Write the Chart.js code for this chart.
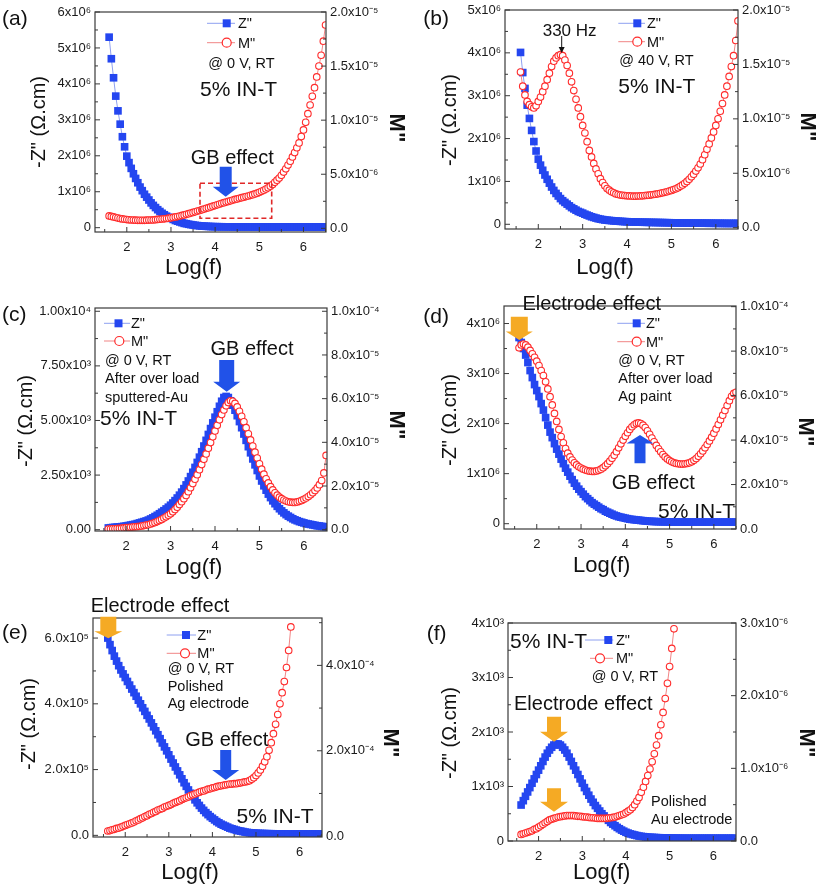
<!DOCTYPE html>
<html>
<head>
<meta charset="utf-8">
<script src="https://cdn.jsdelivr.net/npm/chart.js@4.4.1/dist/chart.umd.min.js"></script>
<style>
  body { margin: 0; background: #fff; }
  #fig { position: relative; width: 817px; height: 892px; overflow: hidden; font-family: "Liberation Sans", Arial, sans-serif; color: #111; }
  #fig canvas { position: absolute; }
  .t { position: absolute; white-space: nowrap; line-height: 1; z-index: 5; }
</style>
</head>
<body>
<div id="fig"></div>
<script>
// log(f) grid shared by every panel
const logF = [
  1.60,1.65,1.70,1.75,1.80,1.85,1.90,1.95,2.00,2.05,
  2.10,2.15,2.20,2.25,2.30,2.35,2.40,2.45,2.50,2.55,
  2.60,2.65,2.70,2.75,2.80,2.85,2.90,2.95,3.00,3.05,
  3.10,3.15,3.20,3.25,3.30,3.35,3.40,3.45,3.50,3.55,
  3.60,3.65,3.70,3.75,3.80,3.85,3.90,3.95,4.00,4.05,
  4.10,4.15,4.20,4.25,4.30,4.35,4.40,4.45,4.50,4.55,
  4.60,4.65,4.70,4.75,4.80,4.85,4.90,4.95,5.00,5.05,
  5.10,5.15,5.20,5.25,5.30,5.35,5.40,5.45,5.50,5.55,
  5.60,5.65,5.70,5.75,5.80,5.85,5.90,5.95,6.00,6.05,
  6.10,6.15,6.20,6.25,6.30,6.35,6.40,6.45,6.50
];

// (a) Z'' in 1e6 ohm.cm, M'' in 1e-6
const zA = [
  5.30,4.70,4.17,3.66,3.25,2.88,2.53,2.25,1.99,1.81,
  1.65,1.50,1.37,1.25,1.13,1.03,0.93,0.85,0.77,0.69,
  0.62,0.56,0.50,0.45,0.40,0.36,0.32,0.29,0.26,0.23,
  0.20,0.18,0.16,0.14,0.12,0.11,0.095,0.085,0.075,0.066,
  0.058,0.052,0.046,0.042,0.038,0.035,0.032,0.030,0.028,0.027,
  0.026,0.026,0.025,0.025,0.024,0.024,0.023,0.023,0.023,0.022,
  0.022,0.022,0.022,0.022,0.021,0.021,0.021,0.021,0.021,0.021,
  0.020,0.020,0.020,0.020,0.020,0.020,0.020,0.020,0.020,0.020,
  0.020,0.020,0.020,0.020,0.020,0.020,0.020,0.020,0.020,0.020,
  0.020,0.020,0.020,0.020,0.020,0.020,0.020,0.020,0.020
];
const mA = [
  1.15,1.10,1.05,1.00,0.95,0.90,0.87,0.84,0.81,0.79,
  0.77,0.76,0.75,0.74,0.74,0.74,0.74,0.75,0.76,0.77,
  0.78,0.80,0.82,0.84,0.86,0.88,0.91,0.94,0.97,1.01,
  1.05,1.09,1.14,1.19,1.24,1.29,1.35,1.41,1.47,1.53,
  1.59,1.65,1.72,1.78,1.85,1.91,1.98,2.05,2.11,2.18,
  2.24,2.31,2.37,2.43,2.49,2.55,2.61,2.67,2.72,2.78,
  2.83,2.88,2.94,2.99,3.05,3.11,3.18,3.25,3.33,3.42,
  3.52,3.63,3.75,3.90,4.05,4.25,4.45,4.65,4.90,5.20,
  5.50,5.85,6.20,6.60,7.00,7.45,7.90,8.50,9.10,9.80,
  10.6,11.4,12.2,13.0,14.0,15.0,16.0,17.3,18.8
];

// (b) Z'' in 1e6, M'' in 1e-6
const zB = [
  4.01,3.54,3.17,2.78,2.47,2.19,1.93,1.71,1.52,1.38,
  1.26,1.15,1.05,0.96,0.87,0.79,0.72,0.66,0.60,0.55,
  0.51,0.47,0.43,0.39,0.36,0.33,0.30,0.28,0.26,0.235,
  0.215,0.195,0.175,0.16,0.145,0.13,0.12,0.11,0.10,0.095,
  0.09,0.085,0.08,0.076,0.072,0.068,0.065,0.062,0.06,0.058,
  0.056,0.054,0.052,0.05,0.049,0.048,0.047,0.046,0.045,0.044,
  0.043,0.042,0.041,0.04,0.039,0.038,0.037,0.036,0.035,0.034,
  0.033,0.032,0.031,0.03,0.03,0.029,0.029,0.028,0.028,0.027,
  0.027,0.026,0.026,0.025,0.025,0.024,0.024,0.023,0.023,0.022,
  0.022,0.021,0.021,0.02,0.02,0.02,0.02,0.02,0.02
];
const mB = [
  14.3,13.0,12.2,11.6,11.3,11.1,11.0,11.2,11.6,12.0,
  12.5,13.0,13.6,14.2,14.8,15.3,15.6,15.8,15.9,15.8,
  15.4,14.9,14.2,13.4,12.6,11.8,11.0,10.2,9.4,8.7,
  7.9,7.1,6.5,5.9,5.4,4.95,4.5,4.15,3.85,3.6,
  3.45,3.3,3.2,3.1,3.05,3.0,2.97,2.95,2.93,2.92,
  2.91,2.9,2.9,2.91,2.92,2.93,2.95,2.97,2.99,3.02,
  3.05,3.08,3.12,3.16,3.2,3.25,3.3,3.36,3.42,3.5,
  3.58,3.68,3.8,3.93,4.08,4.25,4.45,4.67,4.92,5.2,
  5.5,5.85,6.25,6.7,7.2,7.7,8.25,8.8,9.4,10.0,
  10.7,11.4,12.2,13.0,13.9,14.8,15.8,17.2,19.0
];

// (c) Z'' in 1e3, M'' in 1e-5
const zC = [
  0.08,0.09,0.10,0.11,0.12,0.13,0.14,0.155,0.17,0.19,
  0.21,0.23,0.25,0.28,0.31,0.34,0.37,0.40,0.44,0.49,
  0.54,0.60,0.66,0.73,0.80,0.87,0.95,1.03,1.12,1.22,
  1.33,1.45,1.58,1.72,1.88,2.05,2.23,2.43,2.63,2.85,
  3.08,3.32,3.57,3.83,4.09,4.36,4.63,4.89,5.15,5.40,
  5.65,5.88,6.05,6.10,6.05,5.90,5.70,5.47,5.22,4.95,
  4.67,4.38,4.09,3.80,3.52,3.24,2.97,2.71,2.46,2.23,
  2.01,1.81,1.63,1.47,1.32,1.19,1.07,0.96,0.86,0.77,
  0.69,0.62,0.56,0.50,0.45,0.41,0.37,0.34,0.31,0.28,
  0.26,0.24,0.22,0.20,0.18,0.17,0.15,0.14,0.13
];
const mC = [
  0.03,0.03,0.04,0.04,0.05,0.06,0.07,0.08,0.09,0.10,
  0.11,0.12,0.13,0.14,0.15,0.17,0.19,0.21,0.23,0.26,
  0.29,0.33,0.37,0.42,0.47,0.53,0.59,0.66,0.73,0.82,
  0.92,1.03,1.15,1.28,1.42,1.57,1.74,1.92,2.11,2.31,
  2.52,2.75,2.98,3.22,3.47,3.73,3.99,4.25,4.52,4.78,
  5.03,5.27,5.48,5.67,5.82,5.90,5.88,5.78,5.62,5.42,
  5.19,4.94,4.67,4.39,4.11,3.83,3.55,3.28,3.02,2.77,
  2.54,2.33,2.14,1.97,1.82,1.69,1.58,1.49,1.42,1.36,
  1.31,1.28,1.26,1.25,1.25,1.27,1.30,1.34,1.39,1.45,
  1.52,1.60,1.69,1.79,1.91,2.06,2.25,2.60,3.40
];

// (d) Z'' in 1e6, M'' in 1e-5
const zD = [
  3.72,3.62,3.50,3.37,3.22,3.06,2.92,2.78,2.66,2.54,
  2.40,2.27,2.12,1.97,1.83,1.72,1.60,1.49,1.39,1.29,
  1.20,1.11,1.03,0.95,0.88,0.81,0.75,0.69,0.64,0.59,
  0.54,0.50,0.46,0.42,0.39,0.36,0.33,0.30,0.28,0.25,
  0.23,0.21,0.19,0.17,0.155,0.14,0.13,0.12,0.11,0.10,
  0.09,0.085,0.08,0.075,0.07,0.065,0.06,0.055,0.05,0.048,
  0.046,0.044,0.042,0.04,0.039,0.038,0.037,0.036,0.035,0.034,
  0.034,0.033,0.033,0.032,0.032,0.032,0.031,0.031,0.031,0.031,
  0.03,0.03,0.03,0.03,0.03,0.03,0.03,0.03,0.03,0.03,
  0.03,0.03,0.03,0.03,0.03,0.03,0.03,0.03,0.03
];
const mD = [
  8.15,8.28,8.32,8.28,8.18,8.03,7.88,7.72,7.55,7.35,
  7.13,6.90,6.62,6.30,5.95,5.58,5.20,4.84,4.48,4.16,
  3.88,3.62,3.41,3.24,3.10,2.98,2.88,2.80,2.74,2.69,
  2.65,2.62,2.60,2.59,2.59,2.61,2.64,2.69,2.76,2.84,
  2.94,3.05,3.18,3.32,3.48,3.65,3.83,4.00,4.17,4.33,
  4.48,4.60,4.69,4.75,4.77,4.74,4.67,4.56,4.42,4.26,
  4.09,3.92,3.76,3.61,3.47,3.35,3.24,3.15,3.08,3.02,
  2.98,2.95,2.93,2.92,2.92,2.93,2.95,2.98,3.03,3.09,
  3.17,3.27,3.38,3.51,3.65,3.80,3.96,4.13,4.31,4.50,
  4.70,4.91,5.12,5.33,5.55,5.77,5.97,6.10,6.15
];

// (e) Z'' in 1e5, M'' in 1e-4
const zE = [
  6.00,5.80,5.62,5.45,5.30,5.16,5.03,4.91,4.80,4.68,
  4.57,4.45,4.34,4.23,4.11,4.00,3.88,3.77,3.65,3.54,
  3.42,3.30,3.18,3.06,2.94,2.81,2.69,2.57,2.45,2.32,
  2.20,2.08,1.96,1.84,1.72,1.60,1.49,1.38,1.28,1.18,
  1.08,0.99,0.91,0.83,0.76,0.69,0.63,0.57,0.52,0.47,
  0.42,0.38,0.34,0.31,0.28,0.25,0.22,0.20,0.18,0.16,
  0.14,0.13,0.115,0.10,0.09,0.08,0.075,0.07,0.065,0.06,
  0.058,0.056,0.054,0.052,0.05,0.049,0.048,0.047,0.046,0.045,
  0.044,0.043,0.042,0.041,0.04,0.04,0.04,0.04,0.04,0.04,
  0.04,0.04,0.04,0.04,0.04,0.04,0.04,0.04,0.04
];
const mE = [
  0.12,0.13,0.15,0.16,0.18,0.19,0.21,0.23,0.25,0.27,
  0.29,0.31,0.33,0.36,0.38,0.41,0.43,0.46,0.48,0.51,
  0.53,0.56,0.58,0.61,0.63,0.65,0.68,0.70,0.72,0.74,
  0.77,0.79,0.81,0.83,0.86,0.88,0.90,0.92,0.95,0.97,
  0.99,1.01,1.03,1.05,1.06,1.08,1.10,1.11,1.13,1.14,
  1.16,1.17,1.18,1.19,1.20,1.21,1.22,1.22,1.23,1.23,
  1.24,1.25,1.26,1.27,1.28,1.30,1.33,1.37,1.42,1.48,
  1.55,1.64,1.74,1.86,2.01,2.19,2.40,2.62,2.85,3.10,
  3.36,3.62,3.95,4.35,4.90
];

// (f) Z'' in 1e3, M'' in 1e-6
const zF = [
  0.66,0.74,0.82,0.90,0.98,1.06,1.14,1.22,1.30,1.38,
  1.46,1.54,1.61,1.67,1.72,1.76,1.78,1.78,1.76,1.72,
  1.67,1.61,1.54,1.46,1.38,1.30,1.22,1.14,1.06,0.98,
  0.91,0.84,0.77,0.71,0.65,0.60,0.55,0.50,0.46,0.42,
  0.38,0.34,0.31,0.28,0.25,0.225,0.20,0.18,0.16,0.145,
  0.13,0.12,0.11,0.10,0.09,0.085,0.08,0.075,0.07,0.068,
  0.066,0.064,0.062,0.06,0.059,0.058,0.057,0.056,0.055,0.054,
  0.053,0.052,0.052,0.051,0.051,0.05,0.05,0.05,0.05,0.05,
  0.05,0.05,0.05,0.05,0.05,0.05,0.05,0.05,0.05,0.05,
  0.05,0.05,0.05,0.05,0.05,0.05,0.05,0.05,0.05
];
const mF = [
  0.09,0.10,0.11,0.12,0.13,0.14,0.16,0.17,0.19,0.21,
  0.23,0.25,0.27,0.29,0.30,0.31,0.32,0.33,0.335,0.34,
  0.345,0.35,0.35,0.35,0.35,0.345,0.34,0.34,0.335,0.33,
  0.33,0.325,0.32,0.32,0.315,0.31,0.31,0.31,0.31,0.31,
  0.315,0.32,0.325,0.33,0.34,0.35,0.36,0.37,0.39,0.41,
  0.43,0.46,0.50,0.55,0.60,0.67,0.74,0.82,0.90,0.99,
  1.09,1.20,1.32,1.45,1.60,1.77,1.96,2.17,2.40,2.65,
  2.92
];

// tick values and labels
const xTicks = [2, 3, 4, 5, 6];
const xMinor = [1.5, 2.5, 3.5, 4.5, 5.5, 6.5];

const zTicksA = [0, 1, 2, 3, 4, 5, 6];
const zLabelsA = ['0', '1x10⁶', '2x10⁶', '3x10⁶', '4x10⁶', '5x10⁶', '6x10⁶'];
const zMinorA = [0.5, 1.5, 2.5, 3.5, 4.5, 5.5];
const mTicksA = [0, 5, 10, 15, 20];
const mLabelsA = ['0.0', '5.0x10⁻⁶', '1.0x10⁻⁵', '1.5x10⁻⁵', '2.0x10⁻⁵'];
const mMinorA = [2.5, 7.5, 12.5, 17.5];

const zTicksB = [0, 1, 2, 3, 4, 5];
const zLabelsB = ['0', '1x10⁶', '2x10⁶', '3x10⁶', '4x10⁶', '5x10⁶'];
const zMinorB = [0.5, 1.5, 2.5, 3.5, 4.5];

const zTicksC = [0, 2.5, 5, 7.5, 10];
const zLabelsC = ['0.00', '2.50x10³', '5.00x10³', '7.50x10³', '1.00x10⁴'];
const zMinorC = [1.25, 3.75, 6.25, 8.75];
const mTicksC = [0, 2, 4, 6, 8, 10];
const mLabelsC = ['0.0', '2.0x10⁻⁵', '4.0x10⁻⁵', '6.0x10⁻⁵', '8.0x10⁻⁵', '1.0x10⁻⁴'];
const mMinorC = [1, 3, 5, 7, 9];

const zTicksD = [0, 1, 2, 3, 4];
const zLabelsD = ['0', '1x10⁶', '2x10⁶', '3x10⁶', '4x10⁶'];
const zMinorD = [0.5, 1.5, 2.5, 3.5];

const zTicksE = [0, 2, 4, 6];
const zLabelsE = ['0.0', '2.0x10⁵', '4.0x10⁵', '6.0x10⁵'];
const zMinorE = [1, 3, 5];
const mTicksE = [0, 2, 4];
const mLabelsE = ['0.0', '2.0x10⁻⁴', '4.0x10⁻⁴'];
const mMinorE = [1, 3, 5];

const zTicksF = [0, 1, 2, 3, 4];
const zLabelsF = ['0', '1x10³', '2x10³', '3x10³', '4x10³'];
const zMinorF = [0.5, 1.5, 2.5, 3.5];
const mTicksF = [0, 1, 2, 3];
const mLabelsF = ['0.0', '1.0x10⁻⁶', '2.0x10⁻⁶', '3.0x10⁻⁶'];
const mMinorF = [0.5, 1.5, 2.5];

const FONT = '"Liberation Sans", Arial, sans-serif';
const BLUE = '#2446f0';
const ARROW_BLUE = '#2152e8';
const ORANGE = '#f5aa24';
const RED = '#ff2b2b';

Chart.defaults.font.family = FONT;

// plot boxes (page px) and axis ranges for each panel
const panels = [
  { box: [95, 12, 326, 232], xr: [1.28, 6.51], zr: [-0.12, 6.0], mr: [-0.34, 20], z: zA, m: mA,
    zt: zTicksA, zl: zLabelsA, zm: zMinorA, mt: mTicksA, ml: mLabelsA, mm: mMinorA,
    marks: [
      { t: 'leg', k: 'z', x0: 207, x1: 235, mx: 226.7, y: 23.3 },
      { t: 'leg', k: 'm', x0: 207, x1: 235, mx: 226.7, y: 42.7 },
      { t: 'rect', x0: 200, y0: 183.3, x1: 271.7, y1: 218.3 },
      { t: 'arrow', cx: 225.7, y0: 166.7, y1: 196.7, sw: 12, hw: 26, hl: 10, c: ARROW_BLUE }
    ] },
  { box: [505, 10, 738, 229], xr: [1.25, 6.50], zr: [-0.11, 5.0], mr: [-0.12, 20], z: zB, m: mB,
    zt: zTicksB, zl: zLabelsB, zm: zMinorB, mt: mTicksA, ml: mLabelsA, mm: mMinorA,
    marks: [
      { t: 'leg', k: 'z', x0: 618.3, x1: 645, mx: 637.3, y: 23.3 },
      { t: 'leg', k: 'm', x0: 618.3, x1: 645, mx: 637.3, y: 41.7 },
      { t: 'thin', x: 561.7, y0: 36, y1: 53 }
    ] },
  { box: [95, 308, 327, 531], xr: [1.30, 6.52], zr: [-0.06, 10.15], mr: [-0.06, 10.15], z: zC, m: mC,
    zt: zTicksC, zl: zLabelsC, zm: zMinorC, mt: mTicksC, ml: mLabelsC, mm: mMinorC,
    marks: [
      { t: 'leg', k: 'z', x0: 104, x1: 130, mx: 118.5, y: 323.3 },
      { t: 'leg', k: 'm', x0: 104, x1: 130, mx: 119.3, y: 341 },
      { t: 'arrow', cx: 226.7, y0: 360, y1: 391.7, sw: 15, hw: 27, hl: 10, c: ARROW_BLUE }
    ] },
  { box: [504, 306, 736, 529], xr: [1.26, 6.50], zr: [-0.106, 4.35], mr: [0, 10.03], z: zD, m: mD,
    zt: zTicksD, zl: zLabelsD, zm: zMinorD, mt: mTicksC, ml: mLabelsC, mm: mMinorC,
    marks: [
      { t: 'leg', k: 'z', x0: 617.3, x1: 645, mx: 636.7, y: 323.3 },
      { t: 'leg', k: 'm', x0: 617.3, x1: 645, mx: 636.7, y: 341.7 },
      { t: 'arrow', cx: 519.3, y0: 316.7, y1: 340, sw: 17, hw: 27, hl: 8.5, c: ORANGE },
      { t: 'arrow', cx: 640, y0: 463.3, y1: 435, sw: 11, hw: 27, hl: 8.5, c: ARROW_BLUE }
    ] },
  { box: [93, 618, 322, 837], xr: [1.26, 6.515], zr: [-0.05, 6.61], mr: [-0.02, 5.11], z: zE, m: mE,
    zt: zTicksE, zl: zLabelsE, zm: zMinorE, mt: mTicksE, ml: mLabelsE, mm: mMinorE,
    marks: [
      { t: 'leg', k: 'z', x0: 166.7, x1: 196, mx: 186, y: 635 },
      { t: 'leg', k: 'm', x0: 166.7, x1: 196, mx: 185, y: 653.3 },
      { t: 'arrow', cx: 108.3, y0: 616.7, y1: 638.3, sw: 16, hw: 28, hl: 7, c: ORANGE },
      { t: 'arrow', cx: 225.7, y0: 750, y1: 780, sw: 11, hw: 27, hl: 10, c: ARROW_BLUE }
    ] },
  { box: [508, 623, 736, 841], xr: [1.30, 6.52], zr: [0, 4], mr: [0, 3], z: zF, m: mF,
    zt: zTicksF, zl: zLabelsF, zm: zMinorF, mt: mTicksF, ml: mLabelsF, mm: mMinorF,
    marks: [
      { t: 'leg', k: 'z', x0: 585, x1: 613.3, mx: 608.3, y: 640 },
      { t: 'leg', k: 'm', x0: 590, x1: 613, mx: 600, y: 658.3 },
      { t: 'arrow', cx: 554, y0: 716.7, y1: 741.7, sw: 14, hw: 28, hl: 10, c: ORANGE },
      { t: 'arrow', cx: 554, y0: 788.3, y1: 811.7, sw: 14, hw: 28, hl: 10, c: ORANGE }
    ] }
];

// text overlays: [text, x, y(center), size, align, rotation, bold]
const notes = [
  ['(a)', 2, 17, 21, 'l'], ['Z"', 238, 23.3, 14.5, 'l'], ['M"', 238, 42.7, 14.5, 'l'],
  ['@ 0 V, RT', 208.3, 62.5, 14.5, 'l'], ['5% IN-T', 200, 88.3, 21, 'l'],
  ['GB effect', 232.3, 156.7, 20, 'c'],
  ['-Z" (Ω.cm)', 37.5, 122, 20, 'c', -90], ['M"', 397, 128, 22, 'c', 90, 1], ['Log(f)', 193.7, 266.7, 22, 'c'],

  ['(b)', 423.3, 17, 21, 'l'], ['330 Hz', 542.7, 30, 17, 'l'],
  ['Z"', 647, 23.3, 14.5, 'l'], ['M"', 647, 41.7, 14.5, 'l'],
  ['@ 40 V, RT', 619.3, 60, 14.5, 'l'], ['5% IN-T', 618.3, 85, 21, 'l'],
  ['-Z" (Ω.cm)', 449, 120, 20, 'c', -90], ['M"', 808, 127, 22, 'c', 90, 1], ['Log(f)', 605, 266.7, 22, 'c'],

  ['(c)', 2, 313.3, 21, 'l'], ['Z"', 131, 323.3, 14.5, 'l'], ['M"', 131, 341, 14.5, 'l'],
  ['@ 0 V, RT', 105, 360, 14.5, 'l'], ['After over load', 105, 378.3, 14.5, 'l'],
  ['sputtered-Au', 105, 396.7, 14.5, 'l'], ['5% IN-T', 100, 416.7, 21, 'l'],
  ['GB effect', 252, 348.3, 20, 'c'],
  ['-Z" (Ω.cm)', 25, 421, 20, 'c', -90], ['M"', 397, 425, 22, 'c', 90, 1], ['Log(f)', 193.7, 566.7, 22, 'c'],

  ['Electrode effect', 591.7, 302.7, 20, 'c'], ['(d)', 423.3, 315, 21, 'l'],
  ['Z"', 646, 323.3, 14.5, 'l'], ['M"', 646, 341.7, 14.5, 'l'],
  ['@ 0 V, RT', 618.3, 360, 14.5, 'l'], ['After over load', 618.3, 377.7, 14.5, 'l'],
  ['Ag paint', 618.3, 396, 14.5, 'l'], ['GB effect', 653.3, 481.7, 20, 'c'],
  ['5% IN-T', 735, 510, 21, 'r'],
  ['-Z" (Ω.cm)', 449, 420, 20, 'c', -90], ['M"', 806, 432, 22, 'c', 90, 1], ['Log(f)', 601.7, 565, 22, 'c'],

  ['Electrode effect', 160, 605, 20, 'c'], ['(e)', 2, 631, 21, 'l'],
  ['Z"', 197.3, 635, 14.5, 'l'], ['M"', 197.3, 653.3, 14.5, 'l'],
  ['@ 0 V, RT', 167.7, 668.3, 14.5, 'l'], ['Polished', 167.7, 685.7, 14.5, 'l'],
  ['Ag electrode', 167.7, 703.3, 14.5, 'l'], ['GB effect', 226.7, 739, 20, 'c'],
  ['5% IN-T', 275, 815, 21, 'c'],
  ['-Z" (Ω.cm)', 28, 724, 20, 'c', -90], ['M"', 391, 743, 22, 'c', 90, 1], ['Log(f)', 190, 871.7, 22, 'c'],

  ['(f)', 426.7, 631.7, 21, 'l'], ['5% IN-T', 510, 640, 21, 'l'],
  ['Z"', 616, 640, 14.5, 'l'], ['M"', 616, 658.3, 14.5, 'l'],
  ['@ 0 V, RT', 591.7, 675.7, 14.5, 'l'], ['Electrode effect', 583.3, 703.3, 20, 'c'],
  ['Polished', 651, 801, 14.5, 'l'], ['Au electrode', 651, 819, 14.5, 'l'],
  ['-Z" (Ω.cm)', 449, 733, 20, 'c', -90], ['M"', 807, 743, 22, 'c', 90, 1], ['Log(f)', 601.7, 871.7, 22, 'c']
];

const fig = document.getElementById('fig');

function blockArrow(ctx, m) {
  const dir = Math.sign(m.y1 - m.y0);
  const yb = m.y1 - dir * m.hl;
  ctx.fillStyle = m.c;
  ctx.beginPath();
  ctx.moveTo(m.cx - m.sw / 2, m.y0);
  ctx.lineTo(m.cx + m.sw / 2, m.y0);
  ctx.lineTo(m.cx + m.sw / 2, yb);
  ctx.lineTo(m.cx + m.hw / 2, yb);
  ctx.lineTo(m.cx, m.y1);
  ctx.lineTo(m.cx - m.hw / 2, yb);
  ctx.lineTo(m.cx - m.sw / 2, yb);
  ctx.closePath();
  ctx.fill();
}

function drawMark(ctx, m) {
  if (m.t === 'arrow') {
    blockArrow(ctx, m);
  } else if (m.t === 'rect') {
    ctx.strokeStyle = '#e02828';
    ctx.lineWidth = 1.6;
    ctx.setLineDash([5, 3]);
    ctx.strokeRect(m.x0, m.y0, m.x1 - m.x0, m.y1 - m.y0);
    ctx.setLineDash([]);
  } else if (m.t === 'thin') {
    ctx.strokeStyle = '#111';
    ctx.fillStyle = '#111';
    ctx.lineWidth = 1;
    ctx.beginPath();
    ctx.moveTo(m.x, m.y0);
    ctx.lineTo(m.x, m.y1 - 5);
    ctx.stroke();
    ctx.beginPath();
    ctx.moveTo(m.x - 3, m.y1 - 6);
    ctx.lineTo(m.x + 3, m.y1 - 6);
    ctx.lineTo(m.x, m.y1);
    ctx.closePath();
    ctx.fill();
  } else if (m.t === 'leg') {
    ctx.lineWidth = 1;
    ctx.strokeStyle = m.k === 'z' ? '#8ea0f0' : '#f08585';
    ctx.beginPath();
    ctx.moveTo(m.x0, m.y);
    ctx.lineTo(m.x1, m.y);
    ctx.stroke();
    if (m.k === 'z') {
      ctx.fillStyle = BLUE;
      ctx.fillRect(m.mx - 4, m.y - 4, 8, 8);
    } else {
      ctx.fillStyle = '#fff';
      ctx.strokeStyle = RED;
      ctx.lineWidth = 1.2;
      ctx.beginPath();
      ctx.arc(m.mx, m.y, 4.5, 0, Math.PI * 2);
      ctx.fill();
      ctx.stroke();
    }
  }
}

function drawFrame(chart, p, ox, oy) {
  const { ctx, chartArea: a, scales } = chart;
  ctx.save();
  ctx.strokeStyle = '#3a3a3a';
  ctx.lineWidth = 1.2;
  ctx.strokeRect(a.left, a.top, a.right - a.left, a.bottom - a.top);

  // inward ticks
  ctx.lineWidth = 1;
  ctx.beginPath();
  const xt = (vals, len) => vals.forEach(v => {
    const px = scales.x.getPixelForValue(v);
    if (px < a.left - 0.5 || px > a.right + 0.5) return;
    ctx.moveTo(px, a.bottom); ctx.lineTo(px, a.bottom - len);
  });
  const lt = (vals, len) => vals.forEach(v => {
    const py = scales.yl.getPixelForValue(v);
    ctx.moveTo(a.left, py); ctx.lineTo(a.left + len, py);
  });
  const rt = (vals, len) => vals.forEach(v => {
    const py = scales.yr.getPixelForValue(v);
    ctx.moveTo(a.right, py); ctx.lineTo(a.right - len, py);
  });
  xt(xTicks, 5); xt(xMinor, 3);
  lt(p.zt, 5); lt(p.zm, 3);
  rt(p.mt, 5); rt(p.mm, 3);
  ctx.stroke();

  ctx.translate(-ox, -oy);
  p.marks.forEach(m => drawMark(ctx, m));
  ctx.restore();
}

function buildPanel(p, idx) {
  const padL = 80, padR = 80, padT = 14, padB = 30;
  const [L, T, R, B] = p.box;
  const w = R - L + padL + padR, h = B - T + padT + padB;
  const ox = L - padL, oy = T - padT;
  const cv = document.createElement('canvas');
  cv.width = w; cv.height = h;
  cv.style.left = ox + 'px'; cv.style.top = oy + 'px';
  cv.style.width = w + 'px'; cv.style.height = h + 'px';
  fig.appendChild(cv);

  const tickFont = { size: 13, family: FONT };
  const yAxis = (pos, range, vals, labels, width) => ({
    type: 'linear', position: pos, min: range[0], max: range[1],
    grid: { display: false, drawTicks: false }, border: { display: false },
    afterBuildTicks: s => { s.ticks = vals.map(v => ({ value: v })); },
    afterFit: s => { s.width = width; },
    ticks: { font: tickFont, color: '#1a1a1a', padding: 4, autoSkip: false, callback: (v, i) => labels[i] }
  });

  new Chart(cv, {
    type: 'scatter',
    data: {
      datasets: [
        {
          label: 'M"', data: p.m.map((v, i) => ({ x: logF[i], y: v })), yAxisID: 'yr', order: 0,
          showLine: true, borderColor: '#f08585', borderWidth: 1,
          pointStyle: 'circle', pointRadius: 3.3, pointBorderWidth: 1.1,
          pointBorderColor: RED, pointBackgroundColor: '#fff'
        },
        {
          label: 'Z"', data: p.z.map((v, i) => ({ x: logF[i], y: v })), yAxisID: 'yl', order: 1,
          showLine: true, borderColor: '#8ea0f0', borderWidth: 1,
          pointStyle: 'rect', pointRadius: 5.4, pointBorderWidth: 0,
          pointBorderColor: BLUE, pointBackgroundColor: BLUE
        }
      ]
    },
    options: {
      responsive: false,
      animation: false,
      layout: { padding: { top: padT, left: 0, right: 0, bottom: 0 } },
      plugins: { legend: { display: false }, tooltip: { enabled: false } },
      scales: {
        x: {
          type: 'linear', position: 'bottom', min: p.xr[0], max: p.xr[1],
          grid: { display: false, drawTicks: false }, border: { display: false },
          afterBuildTicks: s => { s.ticks = xTicks.map(v => ({ value: v })); },
          afterFit: s => { s.height = padB; },
          ticks: { font: tickFont, color: '#1a1a1a', padding: 8, autoSkip: false, maxRotation: 0, minRotation: 0, callback: v => String(v) }
        },
        yl: yAxis('left', p.zr, p.zt, p.zl, padL),
        yr: yAxis('right', p.mr, p.mt, p.ml, padR)
      }
    },
    plugins: [{ id: 'frame' + idx, afterDraw(chart) { drawFrame(chart, p, ox, oy); } }]
  });
}

panels.forEach(buildPanel);

notes.forEach(([txt, x, y, size, align, rot, bold]) => {
  const d = document.createElement('div');
  d.className = 't';
  d.textContent = txt;
  d.style.fontSize = size + 'px';
  if (bold) d.style.fontWeight = 'bold';
  d.style.left = x + 'px';
  d.style.top = y + 'px';
  const tx = align === 'c' ? '-50%' : align === 'r' ? '-100%' : '0';
  d.style.transform = `translate(${tx}, -50%)` + (rot ? ` rotate(${rot}deg)` : '');
  fig.appendChild(d);
});
</script>
</body>
</html>
